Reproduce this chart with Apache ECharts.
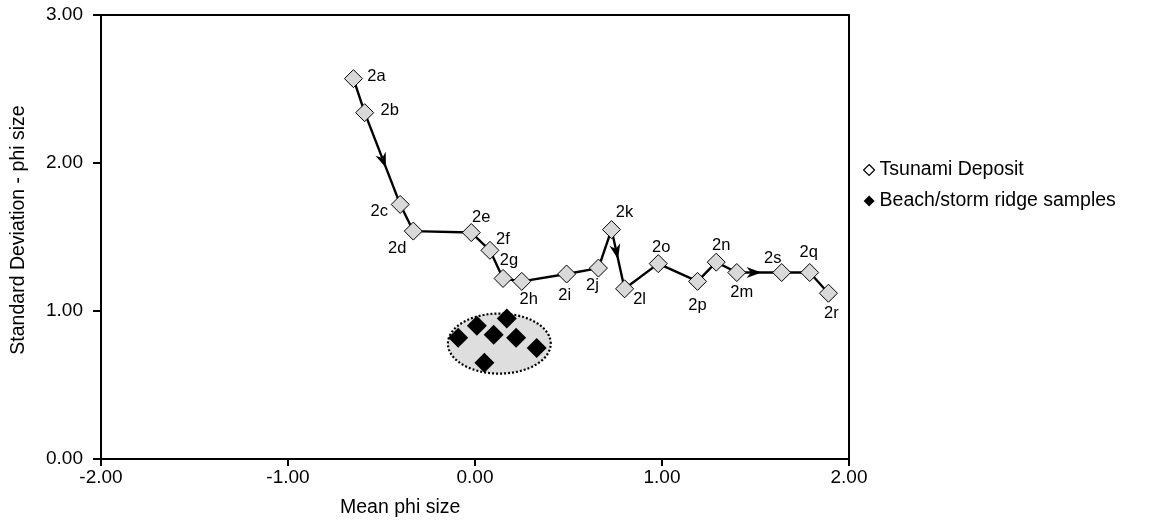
<!DOCTYPE html>
<html>
<head>
<meta charset="utf-8">
<script src="https://cdn.jsdelivr.net/npm/echarts@6/dist/echarts.min.js"></script>
<style>
html,body{margin:0;padding:0;background:#fff;}
#chart{width:1154px;height:522px;}
</style>
</head>
<body>
<div id="chart"></div>
<script>
// ---- Data ----
var tsunamiLabels = ['2a','2b','2c','2d','2e','2f','2g','2h','2i','2j','2k','2l','2o','2p','2n','2m','2s','2q','2r'];
var tsunamiX = [-0.65,-0.59,-0.40,-0.33,-0.02,0.08,0.15,0.25,0.49,0.66,0.73,0.80,0.98,1.19,1.29,1.40,1.64,1.79,1.89];
var tsunamiY = [2.57,2.34,1.72,1.54,1.53,1.41,1.22,1.20,1.25,1.29,1.55,1.15,1.32,1.20,1.33,1.26,1.26,1.26,1.12];
var beachX = [-0.09,0.01,0.10,0.17,0.22,0.33,0.05];
var beachY = [0.82,0.90,0.84,0.95,0.82,0.75,0.65];
// ellipse around beach samples: centre x, centre y, radius x, radius y (data units)
var beachEllipse = [0.13,0.78,0.275,0.203];
// arrows on the path: from index, to index, fraction along segment of tip
var arrows = [[1,2,0.6],[10,11,0.5],[15,16,0.55]];
var xTicks = [-2,-1,0,1,2];
var yTicks = [0,1,2,3];

// ---- Styling (label offsets) ----
var labelOffsets = {
 '2a':[23,-2],'2b':[25,-2],'2c':[-21,7],'2d':[-16,17],'2e':[10,-15],'2f':[13,-11],
 '2g':[6,-18],'2h':[7,18],'2i':[-2,21],'2j':[-6,17],'2k':[13,-17],'2l':[15,11],
 '2o':[3,-16],'2p':[0,24],'2n':[5,-17],'2m':[5,20],'2s':[-9,-14],'2q':[-1,-20],'2r':[3,20]
};

var FONT = 'Liberation Sans, Arial, sans-serif';

var tsunamiData = tsunamiX.map(function(x,i){
  var lb = tsunamiLabels[i];
  return {value:[x,tsunamiY[i]], name: lb,
    label:{show:true, formatter: lb, position:'inside', offset: labelOffsets[lb],
      color:'#000', fontSize:16.5, fontFamily:FONT}};
});
var beachData = beachX.map(function(x,i){return [x,beachY[i]];});

var chart = echarts.init(document.getElementById('chart'));
chart.setOption({
  animation:false,
  backgroundColor:'#fff',
  grid:{left:101,right:305,top:15,bottom:63,show:true,borderColor:'#000',borderWidth:2,backgroundColor:'transparent'},
  legend:{
    orient:'vertical', left:858, top:155, itemGap:11, itemWidth:11, itemHeight:11,
    textStyle:{fontSize:19.5,fontFamily:FONT,color:'#000'},
    data:[
      {name:'Tsunami Deposit', icon:'diamond', itemStyle:{color:'#fff',borderColor:'#000',borderWidth:1.2}},
      {name:'Beach/storm ridge samples', icon:'diamond', itemStyle:{color:'#000'}}
    ]
  },
  xAxis:{
    type:'value', min:xTicks[0], max:xTicks[xTicks.length-1], interval:1,
    axisLine:{show:true,onZero:false,lineStyle:{color:'#000',width:2}},
    axisTick:{show:true,length:7,lineStyle:{color:'#000',width:2}},
    axisLabel:{formatter:function(v){return v.toFixed(2);},fontSize:19,fontFamily:FONT,color:'#000',margin:9},
    splitLine:{show:false}
  },
  yAxis:{
    type:'value', min:yTicks[0], max:yTicks[yTicks.length-1], interval:1,
    name:'Standard Deviation - phi size', nameLocation:'middle', nameGap:72,
    nameTextStyle:{fontSize:19.5,fontFamily:FONT,color:'#000',padding:[0,0,0,14]},
    axisLine:{show:true,onZero:false,lineStyle:{color:'#000',width:2}},
    axisTick:{show:true,length:8,lineStyle:{color:'#000',width:2}},
    axisLabel:{formatter:function(v){return v.toFixed(2);},fontSize:19,fontFamily:FONT,color:'#000',margin:18},
    splitLine:{show:false}
  },
  graphic:[{type:'text', left:340, top:498, style:{text:'Mean phi size', fontSize:19.5, fontFamily:FONT, fill:'#000'}}],
  series:[
    {
      type:'custom', name:'ellipse', silent:true, z:1,
      data:[beachEllipse],
      renderItem:function(params, api){
        var cx=api.value(0), cy=api.value(1), rx=api.value(2), ry=api.value(3);
        var pts=[];
        for(var k=0;k<120;k++){
          var t=k/120*Math.PI*2;
          pts.push(api.coord([cx+rx*Math.cos(t), cy+ry*Math.sin(t)]));
        }
        return {type:'polygon', shape:{points:pts},
          style:{fill:'#dedede', stroke:'#000', lineWidth:2.2, lineDash:[2,2]}};
      }
    },
    {
      name:'Tsunami Deposit', type:'line', z:3,
      data:tsunamiData,
      symbol:'diamond', symbolSize:18,
      itemStyle:{color:'#d9d9d9',borderColor:'#000',borderWidth:1},
      lineStyle:{color:'#000',width:2.4}
    },
    {
      type:'custom', name:'arrows', silent:true, z:4,
      data:arrows,
      renderItem:function(params, api){
        var a=api.value(0), b=api.value(1), f=api.value(2);
        var p0=api.coord([tsunamiX[a],tsunamiY[a]]), p1=api.coord([tsunamiX[b],tsunamiY[b]]);
        var dx=p1[0]-p0[0], dy=p1[1]-p0[1], L=Math.sqrt(dx*dx+dy*dy);
        var ux=dx/L, uy=dy/L, nx=-uy, ny=ux;
        var tip=[p0[0]+dx*f, p0[1]+dy*f];
        var len=15, w=5.5;
        var back=[tip[0]-ux*len, tip[1]-uy*len];
        var notch=[tip[0]-ux*len*0.7, tip[1]-uy*len*0.7];
        return {type:'polygon', shape:{points:[tip,[back[0]+nx*w,back[1]+ny*w],notch,[back[0]-nx*w,back[1]-ny*w]]},
          style:{fill:'#000'}};
      }
    },
    {
      name:'Beach/storm ridge samples', type:'scatter', z:5,
      data:beachData, symbol:'diamond', symbolSize:20,
      itemStyle:{color:'#000',opacity:1}
    }
  ]
});
</script>
</body>
</html>
